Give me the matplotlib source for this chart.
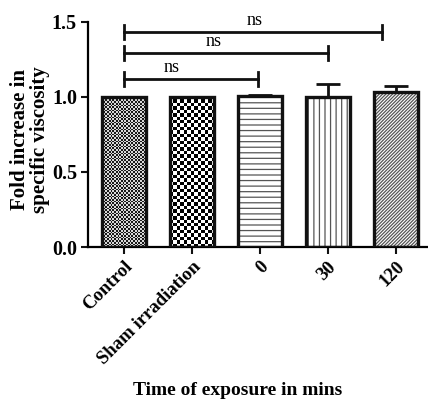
import numpy as np
import matplotlib as mpl
import matplotlib.pyplot as plt

mpl.rcParams["font.family"] = ["Liberation Serif", "DejaVu Serif"]
mpl.rcParams["hatch.linewidth"] = 0.9

# data
groups = ["Control", "Sham irradiation", "0", "30", "120"]
means = [1.0, 1.0, 1.005, 1.0, 1.033]
errs = [0.0, 0.0, 0.006, 0.087, 0.04]
hatches = [None, None, "---", "|||", "//////////"]

# significance brackets: (start, end, height, label x)
brackets = [(0, 1.97, 1.117, 0.7), (0, 3.0, 1.294, 1.32), (0, 3.8, 1.43, 1.93)]
labels = ["ns", "ns", "ns"]

fig = plt.figure(figsize=(4.28, 4.01), dpi=100)
ax = fig.add_axes([0.2056, 0.384, 0.792, 0.562])

x = np.arange(len(groups))
bars = ax.bar(x, means, width=0.65, color="white", edgecolor="#555555",
              linewidth=0, zorder=1)
for b, h in zip(bars, hatches):
    if h:
        b.set_hatch(h)

# checkerboard fills for the first two bars
for b, n in zip(bars[:2], [(26, 88), (13, 44)]):
    nx, ny = n
    board = (np.add.outer(np.arange(ny), np.arange(nx)) % 2).astype(float)
    if nx == 26:
        board = board * 0.75 + 0.1
    x0, w, hgt = b.get_x(), b.get_width(), b.get_height()
    im = ax.imshow(board, cmap="gray", vmin=0, vmax=1, extent=[x0, x0 + w, 0, hgt],
                   aspect="auto", interpolation="nearest", zorder=2)
    im.set_clip_path(b)

ax.bar(x, means, width=0.65, fill=False, edgecolor="#111111", linewidth=2.4, zorder=3)
ax.errorbar(x, means, yerr=[np.zeros(len(errs)), errs], fmt="none", ecolor="#111111",
            elinewidth=2, capsize=8.5, capthick=2, zorder=2.5)

for (s, e, yv, tx), lab in zip(brackets, labels):
    ax.plot([s, e], [yv, yv], color="#111111", lw=2)
    ax.plot([s, s], [yv - 0.047, yv + 0.047], color="#111111", lw=2)
    ax.plot([e, e], [yv - 0.047, yv + 0.047], color="#111111", lw=2)
    ax.text(tx, yv + 0.02, lab, ha="center", va="bottom", fontsize=13)

ax.set_xlim(-0.53, 4.46)
ax.set_ylim(0, 1.5)
ax.set_yticks([0.0, 0.5, 1.0, 1.5])
ax.set_yticklabels(["0.0", "0.5", "1.0", "1.5"], fontweight="bold", fontsize=14.5)
ax.set_xticks(x)
ax.set_xticklabels(groups, rotation=45, ha="right", rotation_mode="anchor",
                   fontweight="bold", fontsize=13.5)
ax.tick_params(axis="both", width=1.5, length=5, color="#111111", pad=3)
ax.spines["top"].set_visible(False)
ax.spines["right"].set_visible(False)
ax.spines["left"].set_linewidth(1.6)
ax.spines["bottom"].set_linewidth(1.6)
ax.set_ylabel("Fold increase in\nspecific viscosity", fontweight="bold", fontsize=15,
              linespacing=1.0)
ax.yaxis.set_label_coords(-0.112, 0.475)
ax.set_xlabel("Time of exposure in mins", fontweight="bold", fontsize=14)
ax.xaxis.set_label_coords(0.44, -0.6)

plt.savefig("out.png", dpi=100)
